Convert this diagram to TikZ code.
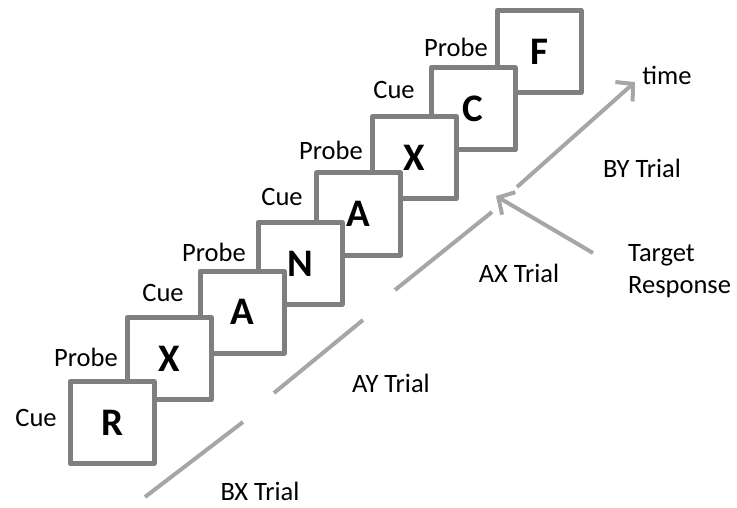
\documentclass[tikz,border=0pt]{standalone}
\usepackage{fontspec}
\setmainfont{Carlito}
\usetikzlibrary{arrows.meta}

\definecolor{boxgray}{HTML}{7F7F7F}
\definecolor{axisgray}{HTML}{A6A6A6}

\begin{document}
\begin{tikzpicture}[x=1pt, y=-1pt,
    card/.style={draw=boxgray, fill=white, line width=5pt, line join=round, minimum width=84pt, minimum height=82pt, inner sep=0pt, font=\fontsize{39}{40}\selectfont\bfseries},
    lbl/.style={inner sep=0pt, font=\fontsize{26.5}{30}\selectfont},
    axis/.style={draw=axisgray, line width=4pt},
    barb/.style={-{Straight Barb[length=12pt,width=26pt]}}]
\useasboundingbox (0,0) rectangle (737,508);

\node[card] (f) at (539,51.5) {F};
\node[card] (c) at (473,109) {C};
\node[card] (x2) at (414.5,157.5) {X};
\node[card] (a2) at (358.5,214) {A};
\node[card] (n) at (300,263.5) {N};
\node[card] (a1) at (242,312) {A};
\node[card] (x1) at (169.5,358.5) {X};
\node[card] (r) at (112,422.5) {R};

\node[lbl] (cue1) at (36,418) {Cue};
\node[lbl] (probe1) at (86,357) {Probe};
\node[lbl] (cue2) at (163,293) {Cue};
\node[lbl] (probe2) at (214,252) {Probe};
\node[lbl] (cue3) at (282,197) {Cue};
\node[lbl] (probe3) at (331,150) {Probe};
\node[lbl] (cue4) at (394,90) {Cue};
\node[lbl] (probe4) at (456,47) {Probe};

\coordinate (bx0) at (145,497);
\coordinate (bx1) at (243,422);
\coordinate (ay0) at (274,393);
\coordinate (ay1) at (363,320);
\coordinate (ax0) at (395,290);
\coordinate (ax1) at (492,212);
\coordinate (by0) at (517,187);
\coordinate (by1) at (635,82);
\draw[axis] (bx0) -- (bx1);
\draw[axis] (ay0) -- (ay1);
\draw[axis] (ax0) -- (ax1);
\draw[axis, barb] (by0) -- (by1);

\node[lbl] (bxt) at (260,491) {BX Trial};
\node[lbl] (ayt) at (391,383) {AY Trial};
\node[lbl] (axt) at (519,273) {AX Trial};
\node[lbl] (byt) at (642,168) {BY Trial};
\node[lbl] (time) at (667,75) {time};
\node[lbl, anchor=west, align=left] (target) at (628,271) {Target\\[2pt]Response};

\coordinate (resp) at (593,253);
\coordinate (hit) at (496,196);
\draw[axis, barb] (resp) -- (hit);
\end{tikzpicture}
\end{document}
